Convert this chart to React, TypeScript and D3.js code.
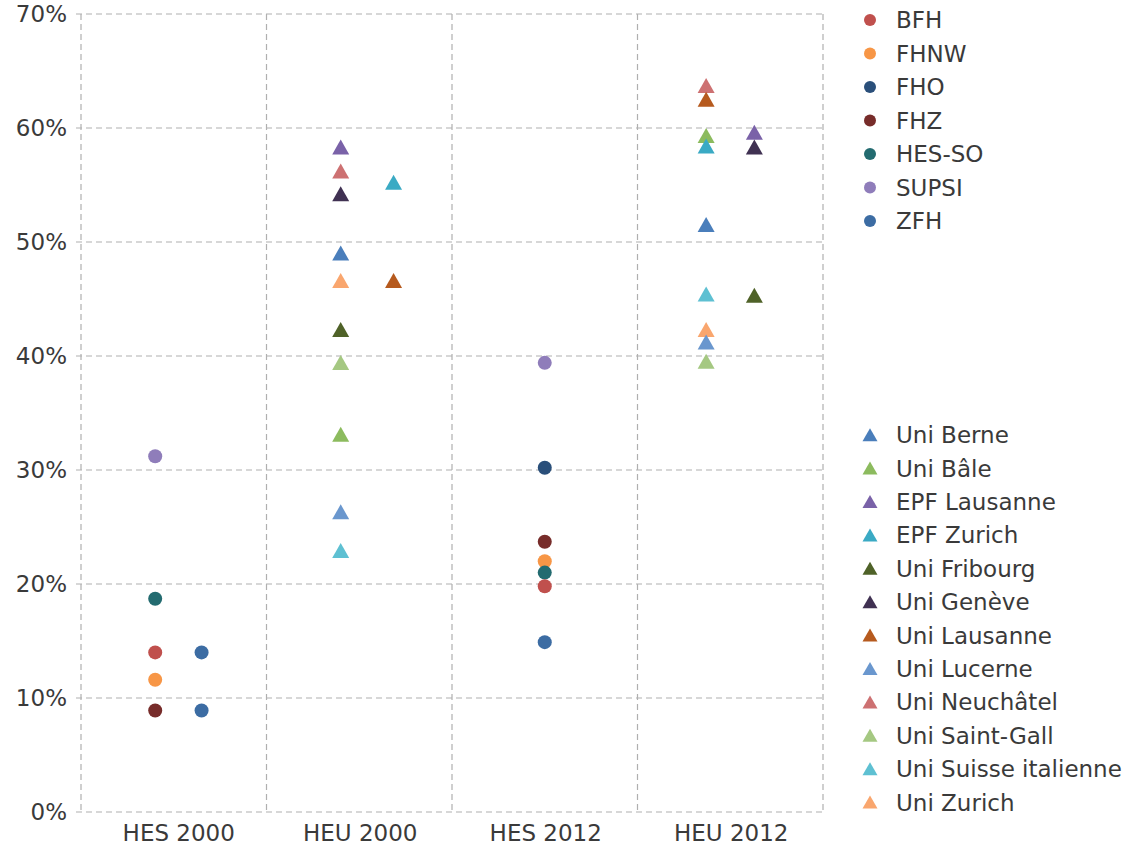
import React from "react";
import * as d3 from "d3";

const columns = ["HES 2000", "HEU 2000", "HES 2012", "HEU 2012"];
const yTicks = [0, 10, 20, 30, 40, 50, 60, 70];

const hesNames = ["BFH", "FHNW", "FHO", "FHZ", "HES-SO", "SUPSI", "ZFH"];
const hesColors = ["#c0504d", "#f79646", "#2a4f7a", "#772c2a", "#236b70", "#8f7dba", "#3c6ca3"];

const uniNames = [
  "Uni Berne", "Uni Bâle", "EPF Lausanne", "EPF Zurich", "Uni Fribourg", "Uni Genève",
  "Uni Lausanne", "Uni Lucerne", "Uni Neuchâtel", "Uni Saint-Gall", "Uni Suisse italienne", "Uni Zurich",
];
const uniColors = [
  "#4a7ebb", "#8cbb5e", "#7a62a8", "#3aaac4", "#4f6228", "#403152",
  "#b65a1e", "#6a97ce", "#cd7172", "#a5c882", "#5ec0d2", "#f9a66e",
];

// lane = sub-column within each category
const lanesByColumn = [[0.4, 0.65], [0.4, 0.685], [0.5], [0.37, 0.63]];

const hes2000 = [
  { name: "SUPSI", value: 31.2, lane: 0 },
  { name: "HES-SO", value: 18.7, lane: 0 },
  { name: "BFH", value: 14.0, lane: 0 },
  { name: "FHNW", value: 11.6, lane: 0 },
  { name: "FHZ", value: 8.9, lane: 0 },
  { name: "ZFH", value: 14.0, lane: 1 },
  { name: "ZFH", value: 8.9, lane: 1 },
];
const heu2000 = [
  { name: "EPF Lausanne", value: 58.2, lane: 0 },
  { name: "Uni Neuchâtel", value: 56.1, lane: 0 },
  { name: "Uni Genève", value: 54.1, lane: 0 },
  { name: "Uni Berne", value: 48.9, lane: 0 },
  { name: "Uni Zurich", value: 46.5, lane: 0 },
  { name: "Uni Fribourg", value: 42.2, lane: 0 },
  { name: "Uni Saint-Gall", value: 39.3, lane: 0 },
  { name: "Uni Bâle", value: 33.0, lane: 0 },
  { name: "Uni Lucerne", value: 26.2, lane: 0 },
  { name: "Uni Suisse italienne", value: 22.8, lane: 0 },
  { name: "EPF Zurich", value: 55.1, lane: 1 },
  { name: "Uni Lausanne", value: 46.5, lane: 1 },
];
const hes2012 = [
  { name: "SUPSI", value: 39.4, lane: 0 },
  { name: "FHO", value: 30.2, lane: 0 },
  { name: "FHZ", value: 23.7, lane: 0 },
  { name: "FHNW", value: 22.0, lane: 0 },
  { name: "HES-SO", value: 21.0, lane: 0 },
  { name: "BFH", value: 19.8, lane: 0 },
  { name: "ZFH", value: 14.9, lane: 0 },
];
const heu2012 = [
  { name: "Uni Neuchâtel", value: 63.6, lane: 0 },
  { name: "Uni Lausanne", value: 62.4, lane: 0 },
  { name: "Uni Bâle", value: 59.2, lane: 0 },
  { name: "EPF Zurich", value: 58.3, lane: 0 },
  { name: "Uni Berne", value: 51.4, lane: 0 },
  { name: "Uni Suisse italienne", value: 45.3, lane: 0 },
  { name: "Uni Zurich", value: 42.2, lane: 0 },
  { name: "Uni Lucerne", value: 41.1, lane: 0 },
  { name: "Uni Saint-Gall", value: 39.4, lane: 0 },
  { name: "EPF Lausanne", value: 59.5, lane: 1 },
  { name: "Uni Genève", value: 58.2, lane: 1 },
  { name: "Uni Fribourg", value: 45.2, lane: 1 },
];
const seriesByColumn = [hes2000, heu2000, hes2012, heu2012];

const W = 1127;
const H = 848;
const M = { left: 81, right: 823, top: 14, bottom: 812 };
const FONT = "'DejaVu Sans', 'Open Sans', sans-serif";
const TEXT = "#3a3a3a";
const GRID = "#b0b0b0";
const FS = 23;

const colorOf = (name: string) => {
  const i = hesNames.indexOf(name);
  if (i >= 0) return hesColors[i];
  return uniColors[uniNames.indexOf(name)];
};
const isHes = (name: string) => hesNames.indexOf(name) >= 0;

const triPath = (cx: number, cy: number, w: number, h: number) =>
  `M${cx},${cy - h * 0.6}L${cx + w / 2},${cy + h * 0.4}L${cx - w / 2},${cy + h * 0.4}Z`;

export default function App() {
  const x = d3.scaleBand().domain(columns).range([M.left, M.right]).padding(0);
  const y = d3.scaleLinear().domain([0, 70]).range([M.bottom, M.top]);

  const bw = x.bandwidth();
  const dash = "6,4";

  return (
    <svg width={W} height={H} style={{ position: "absolute", left: 0, top: 0, background: "#fff" }}>
      {/* horizontal grid */}
      {yTicks.map((t) => (
        <g key={"y" + t}>
          <line x1={M.left - 5} x2={M.right} y1={y(t)} y2={y(t)} stroke={GRID} strokeWidth={1.2} strokeDasharray={dash} />
          <text x={67} y={y(t)} dy="0.36em" textAnchor="end" fontFamily={FONT} fontSize={FS} fill={TEXT}>
            {t}%
          </text>
        </g>
      ))}
      {/* vertical grid */}
      {[...columns.map((c) => x(c) as number), M.right].map((xv, i) => (
        <line key={"v" + i} x1={xv} x2={xv} y1={M.top} y2={M.bottom} stroke={GRID} strokeWidth={1.2} strokeDasharray={dash} />
      ))}
      {columns.map((c, i) => (
        <text key={c} x={(x(c) as number) + bw / 2 + (i === 0 ? 5 : 1)} y={841} textAnchor="middle" fontFamily={FONT} fontSize={FS} fill={TEXT}>
          {c}
        </text>
      ))}
      {/* points */}
      {seriesByColumn.map((pts, ci) =>
        pts.map((p, pi) => {
          const cx = (x(columns[ci]) as number) + bw * lanesByColumn[ci][p.lane];
          const cy = y(p.value);
          const col = colorOf(p.name);
          return isHes(p.name) ? (
            <circle key={ci + "-" + pi} cx={cx} cy={cy} r={7} fill={col} />
          ) : (
            <path key={ci + "-" + pi} d={triPath(cx, cy, 17, 15)} fill={col} />
          );
        })
      )}
      {/* legends */}
      {hesNames.map((n, i) => (
        <g key={n} transform={`translate(0,${20 + i * 33.5})`}>
          <circle cx={870} cy={0} r={6} fill={hesColors[i]} />
          <text x={896} y={0} dy="0.36em" fontFamily={FONT} fontSize={FS} fill={TEXT}>
            {n}
          </text>
        </g>
      ))}
      {uniNames.map((n, i) => (
        <g key={n} transform={`translate(0,${435 + i * 33.4})`}>
          <path d={triPath(870, 1, 15, 13)} fill={uniColors[i]} />
          <text x={896} y={0} dy="0.36em" fontFamily={FONT} fontSize={FS} fill={TEXT}>
            {n}
          </text>
        </g>
      ))}
    </svg>
  );
}
